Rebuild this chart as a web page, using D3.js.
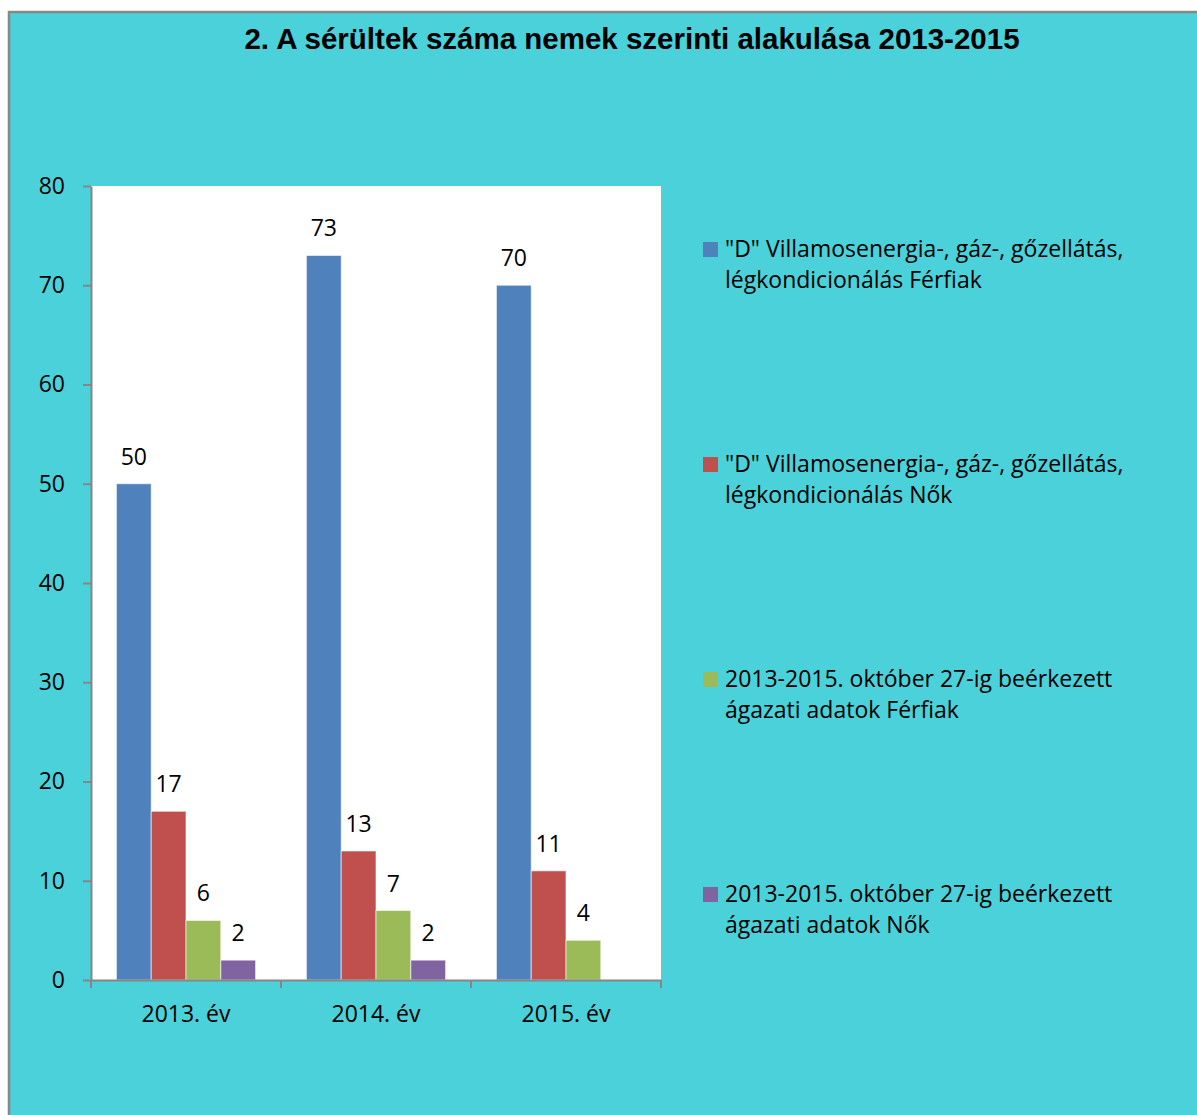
<!DOCTYPE html>
<html>
<head>
<meta charset="utf-8">
<script src="https://cdn.jsdelivr.net/npm/d3@7"></script>
<style>
  body { margin: 0; background: #fff; }
  text { font-family: "Open Sans", "DejaVu Sans", sans-serif; fill: #000; }
  .title { font-family: "Liberation Sans", Arial, sans-serif; font-weight: bold; }
</style>
</head>
<body>
<svg id="chart"></svg>
<script>
const categories = ['2013. év', '2014. év', '2015. év'];
const seriesNames = [
  ['"D" Villamosenergia-, gáz-, gőzellátás,', 'légkondicionálás Férfiak'],
  ['"D" Villamosenergia-, gáz-, gőzellátás,', 'légkondicionálás Nők'],
  ['2013-2015. október 27-ig beérkezett', 'ágazati adatok Férfiak'],
  ['2013-2015. október 27-ig beérkezett', 'ágazati adatok Nők']
];
const dFerfiak = [50, 73, 70];
const dNok = [17, 13, 11];
const agazatFerfiak = [6, 7, 4];
const agazatNok = [2, 2, null];
const yTicks = [0, 10, 20, 30, 40, 50, 60, 70, 80];
const colors = ['#4F81BD', '#C0504D', '#9BBB59', '#8064A2'];

const series = [dFerfiak, dNok, agazatFerfiak, agazatNok];

const width = 1197, height = 1115;
const margin = { top: 186, left: 91, right: 536, bottom: 135 };
const innerW = width - margin.left - margin.right;
const innerH = height - margin.top - margin.bottom;
const fontSize = '23px';

const svg = d3.select('#chart')
  .attr('width', width)
  .attr('height', height);

// background and frame
svg.append('rect')
  .attr('x', 9).attr('y', 12)
  .attr('width', width).attr('height', height)
  .attr('fill', '#4AD1D9')
  .attr('stroke', '#888')
  .attr('stroke-width', 2.5);

svg.append('text')
  .attr('class', 'title')
  .attr('x', 632)
  .attr('y', 49)
  .attr('text-anchor', 'middle')
  .style('font-size', '29.5px')
  .text('2. A sérültek száma nemek szerinti alakulása 2013-2015');

const chart = svg.append('g')
  .attr('transform', `translate(${margin.left},${margin.top})`);

chart.append('rect')
  .attr('width', innerW)
  .attr('height', innerH)
  .attr('fill', '#fff');

const xScale = d3.scaleBand()
  .domain(categories)
  .range([0, innerW])
  .paddingInner(0)
  .paddingOuter(0);

const xInner = d3.scaleBand()
  .domain(d3.range(series.length))
  .range([0, xScale.bandwidth()])
  .paddingOuter(0.73);

const yScale = d3.scaleLinear()
  .domain([0, 80])
  .range([innerH, 0]);

const rows = [];
series.forEach((s, si) => {
  s.forEach((v, ci) => {
    if (v != null) rows.push({ s: si, c: categories[ci], v: v });
  });
});

chart.selectAll('.bar')
  .data(rows)
  .enter().append('rect')
  .attr('class', 'bar')
  .attr('x', d => xScale(d.c) + xInner(d.s))
  .attr('y', d => yScale(d.v))
  .attr('width', xInner.bandwidth())
  .attr('height', d => innerH - yScale(d.v))
  .attr('fill', d => colors[d.s])
  .attr('stroke', 'rgba(255,255,255,0.6)')
  .attr('stroke-width', 1);

chart.selectAll('.label')
  .data(rows)
  .enter().append('text')
  .attr('class', 'label')
  .attr('x', d => xScale(d.c) + xInner(d.s) + xInner.bandwidth() / 2)
  .attr('y', d => yScale(d.v) - 19)
  .attr('text-anchor', 'middle')
  .style('font-size', fontSize)
  .text(d => d.v);

// axes
const yAxis = d3.axisLeft(yScale)
  .tickValues(yTicks)
  .tickSize(8)
  .tickPadding(18)
  .tickSizeOuter(0);
const yAxisG = chart.append('g').call(yAxis);
yAxisG.selectAll('line, path').attr('stroke', '#868686').attr('stroke-width', 2);
yAxisG.selectAll('text').style('font-size', fontSize).attr('font-family', null);

const xAxis = d3.axisBottom(xScale)
  .tickSize(0)
  .tickPadding(26)
  .tickSizeOuter(0);
const xAxisG = chart.append('g')
  .attr('transform', `translate(0,${innerH})`)
  .call(xAxis);
xAxisG.select('.domain').attr('stroke', '#868686').attr('stroke-width', 2);
xAxisG.selectAll('text').style('font-size', fontSize).attr('font-family', null);

// category boundary ticks
xAxisG.selectAll('.sep')
  .data(d3.range(categories.length + 1))
  .enter().append('line')
  .attr('class', 'sep')
  .attr('x1', i => i * xScale.step())
  .attr('x2', i => i * xScale.step())
  .attr('y1', 0)
  .attr('y2', 8)
  .attr('stroke', '#868686')
  .attr('stroke-width', 2);

// legend
const legendY = [257, 472, 687, 902];
const legend = svg.append('g').attr('transform', 'translate(703,0)');
const item = legend.selectAll('.leg')
  .data(seriesNames)
  .enter().append('g')
  .attr('class', 'leg')
  .attr('transform', (d, i) => `translate(0,${legendY[i]})`);

item.append('rect')
  .attr('x', 0)
  .attr('y', -15)
  .attr('width', 15)
  .attr('height', 15)
  .attr('fill', (d, i) => colors[i]);

item.append('text')
  .attr('x', 22)
  .attr('y', 0)
  .style('font-size', fontSize)
  .selectAll('tspan')
  .data(d => d)
  .enter().append('tspan')
  .attr('x', 22)
  .attr('dy', (d, i) => i === 0 ? 0 : 31)
  .text(d => d);
</script>
</body>
</html>
